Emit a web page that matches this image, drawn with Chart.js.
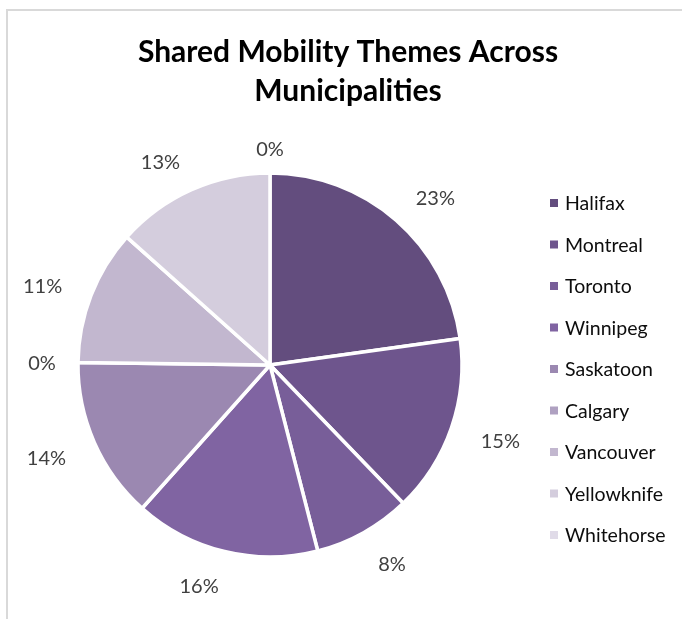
<!DOCTYPE html>
<html>
<head>
<meta charset="utf-8">
<title>Shared Mobility Themes Across Municipalities</title>
<script src="https://cdn.jsdelivr.net/npm/chart.js@4"></script>
<style>
  html, body { margin: 0; padding: 0; background: #ffffff; }
  #wrap { position: relative; width: 682px; height: 619px; overflow: hidden; }
  #frame { position: absolute; left: 6px; top: 9px; width: 720px; height: 700px;
           border-top: 2px solid #d9d9d9; border-left: 2px solid #d9d9d9; box-sizing: border-box; }
  canvas { position: absolute; left: 0; top: 0; }
</style>
</head>
<body>
<div id="wrap">
  <div id="frame"></div>
  <canvas id="chart" width="682" height="619"></canvas>
</div>
<script>
// Municipalities and the share of shared-mobility themes (percent)
const titleLines = ['Shared Mobility Themes Across', 'Municipalities'];
const municipalities = ['Halifax', 'Montreal', 'Toronto', 'Winnipeg', 'Saskatoon',
                        'Calgary', 'Vancouver', 'Yellowknife', 'Whitehorse'];
const themeShares = [22.8, 15.0, 8.2, 15.6, 13.6, 0, 11.4, 13.4, 0];
const purpleShades = ['#634d7e', '#6e558d', '#785e99', '#8064a2', '#9b88b1',
                      '#afa1c1', '#c2b7cf', '#d4cddd', '#e0dbe8'];

const FONT = 'Lato, "Liberation Sans", sans-serif';

// Title, percentage labels and right-hand legend drawn onto the chart canvas
const decorations = {
  id: 'decorations',
  afterDatasetsDraw(chart) {
    const ctx = chart.ctx;
    const meta = chart.getDatasetMeta(0);
    const values = chart.data.datasets[0].data;
    const colors = chart.data.datasets[0].backgroundColor;
    ctx.save();

    // title
    ctx.fillStyle = '#000000';
    ctx.font = 'bold 30px ' + FONT;
    ctx.textAlign = 'center';
    ctx.textBaseline = 'alphabetic';
    titleLines.forEach((line, i) => ctx.fillText(line, 348, 62 + i * 39));

    // percentage labels just outside each slice, pushed sideways away from the pie
    ctx.font = '20px ' + FONT;
    ctx.fillStyle = '#404040';
    ctx.textBaseline = 'middle';
    ctx.textAlign = 'center';
    const total = values.reduce((a, b) => a + b, 0);
    meta.data.forEach((arc, i) => {
      const p = arc.getProps(['x', 'y', 'startAngle', 'endAngle', 'outerRadius'], true);
      const mid = (p.startAngle + p.endAngle) / 2;
      const text = Math.round(values[i] / total * 100) + '%';
      const w = ctx.measureText(text).width;
      const dx = Math.cos(mid), dy = Math.sin(mid);
      let x, y;
      if (values[i] > 0) {
        const dist = p.outerRadius + 33;
        x = p.x + dx * dist + Math.sign(dx) * w * 0.45;
        y = p.y + dy * dist + 3;
      } else {
        const dist = p.outerRadius + 24 + Math.abs(dx) * 12;
        x = p.x + dx * dist;
        y = p.y + dy * dist + 1;
      }
      ctx.fillText(text, x, y);
    });

    // legend
    ctx.textAlign = 'left';
    ctx.font = '19.5px ' + FONT;
    chart.data.labels.forEach((name, i) => {
      const cy = 203 + i * 41.5;
      ctx.fillStyle = colors[i];
      ctx.fillRect(550, cy - 4, 8, 8);
      ctx.fillStyle = '#0d0d0d';
      ctx.fillText(name, 565, cy + 1);
    });
    ctx.restore();
  }
};

new Chart(document.getElementById('chart'), {
  type: 'pie',
  data: {
    labels: municipalities,
    datasets: [{
      data: themeShares,
      backgroundColor: purpleShades,
      borderColor: '#ffffff',
      borderWidth: 3.5
    }]
  },
  options: {
    responsive: false,
    animation: false,
    radius: 192,
    layout: { padding: { left: 0, right: 142, top: 111, bottom: 0 } },
    plugins: {
      legend: { display: false },
      title: { display: false },
      tooltip: { enabled: false }
    }
  },
  plugins: [decorations]
});
</script>
</body>
</html>
